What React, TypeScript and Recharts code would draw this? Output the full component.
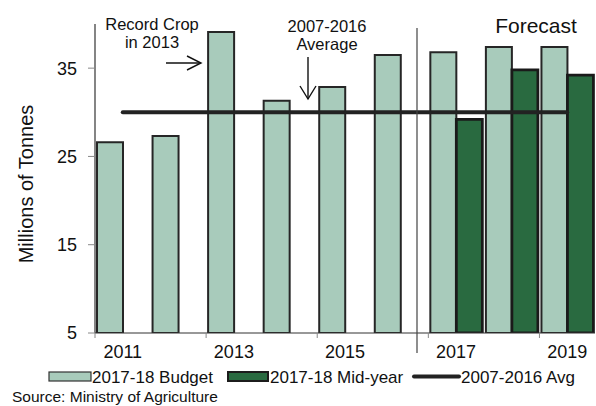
import React from "react"
import { ComposedChart, Bar, Line, XAxis, YAxis } from "recharts"

const years = ["2011", "2012", "2013", "2014", "2015", "2016", "2017", "2018", "2019"]
const budget = [26.6, 27.3, 39.1, 31.3, 32.85, 36.5, 36.8, 37.4, 37.4]
const midYear = [null, null, null, null, null, null, 29.2, 34.8, 34.2]
const avg = [30, 30, 30, 30, 30, 30, 30, 30, 30]
const yTicks = [5, 15, 25, 35]

const data = years.map((year, i) => ({ year, budget: budget[i], mid: midYear[i], avg: avg[i] }))

const FONT = "'Liberation Sans', Arial, sans-serif"
const LIGHT = "#a8cbbb"
const DARK = "#296a40"

const XTick = (props: any) => {
  const { x, y, payload } = props
  const half = payload.offset ?? 27.8
  return (
    <g>
      <line x1={x - half} x2={x - half} y1={y} y2={y + 5} stroke="#888" strokeWidth={1} />
      <text x={x} y={y + 25} textAnchor="middle" fontSize={18} fill="#111" fontFamily={FONT}>
        {payload.value}
      </text>
    </g>
  )
}

export default function App() {
  return (
    <div style={{ position: "absolute", left: 0, top: 0, width: 596, height: 406, background: "#fff" }}>
      <ComposedChart
        width={596}
        height={406}
        data={data}
        margin={{ top: 24, right: 1, bottom: 0, left: 0 }}
        barCategoryGap={2}
        barGap={0}
      >
        <XAxis
          dataKey="year"
          height={73}
          interval={1}
          tickLine={false}
          tickSize={0}
          tickMargin={0}
          axisLine={{ stroke: "#333", strokeWidth: 1.2 }}
          tick={<XTick />}
        />
        <YAxis
          width={95}
          domain={[5, 40]}
          ticks={yTicks}
          allowDataOverflow
          tickSize={7}
          tickMargin={11}
          axisLine={{ stroke: "#333", strokeWidth: 1.2 }}
          tickLine={{ stroke: "#888" }}
          tick={{ fontSize: 18, fill: "#111", fontFamily: FONT }}
        />
        <Bar dataKey="budget" fill={LIGHT} stroke="#262626" strokeWidth={2} isAnimationActive={false} />
        <Bar dataKey="mid" fill={DARK} stroke="#1a1a1a" strokeWidth={2.8} isAnimationActive={false} />
        <Line
          dataKey="avg"
          stroke="#222"
          strokeWidth={4}
          strokeLinecap="round"
          dot={false}
          activeDot={false}
          isAnimationActive={false}
        />
      </ComposedChart>

      <svg
        width={596}
        height={406}
        style={{ position: "absolute", left: 0, top: 0, pointerEvents: "none" }}
        fontFamily={FONT}
        fill="#111"
      >
        {/* y axis title */}
        <text x={33} y={184} fontSize={20} textAnchor="middle" transform="rotate(-90, 33, 184)">
          Millions of Tonnes
        </text>

        {/* forecast divider */}
        <line x1={417} x2={417} y1={28} y2={353} stroke="#444" strokeWidth={1.2} />
        <text x={536} y={33} fontSize={21} textAnchor="middle">Forecast</text>

        {/* record crop note */}
        <text x={152} y={30} fontSize={16.5} textAnchor="middle">Record Crop</text>
        <text x={152} y={48} fontSize={16.5} textAnchor="middle">in 2013</text>
        <g stroke="#111" strokeWidth={1.4} fill="none">
          <line x1={166} y1={63} x2={201} y2={63} />
          <polyline points="187,56 201,63 187,70" />
        </g>

        {/* average note */}
        <text x={327} y={32} fontSize={16.5} textAnchor="middle">2007-2016</text>
        <text x={327} y={50} fontSize={16.5} textAnchor="middle">Average</text>
        <g stroke="#111" strokeWidth={1.4} fill="none">
          <line x1={308} y1={57} x2={308} y2={99} />
          <polyline points="300,86 308,99 316,86" />
        </g>

        {/* legend */}
        <rect x={49} y={372} width={42} height={9} fill={LIGHT} stroke="#333" strokeWidth={1.2} />
        <text x={92} y={383} fontSize={17}>2017-18 Budget</text>
        <rect x={228} y={372} width={40} height={9} fill={DARK} stroke="#1c1c1c" strokeWidth={2} />
        <text x={270} y={383} fontSize={17}>2017-18 Mid-year</text>
        <line x1={414} x2={459} y1={376.5} y2={376.5} stroke="#222" strokeWidth={4} strokeLinecap="round" />
        <text x={461} y={383} fontSize={17}>2007-2016 Avg</text>

        <text x={12} y={402} fontSize={15.5}>Source: Ministry of Agriculture</text>
      </svg>
    </div>
  )
}
